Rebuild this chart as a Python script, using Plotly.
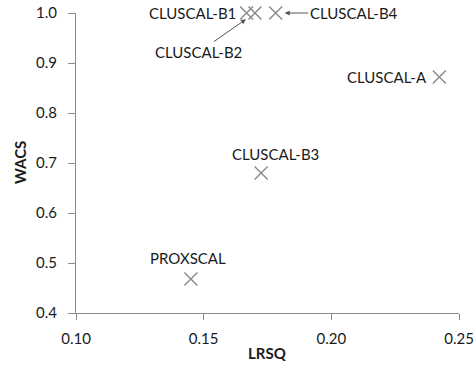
import plotly.graph_objects as go

labels = ["PROXSCAL", "CLUSCAL-A", "CLUSCAL-B1", "CLUSCAL-B2", "CLUSCAL-B3", "CLUSCAL-B4"]
lrsq = [0.145, 0.2423, 0.1668, 0.1701, 0.1725, 0.1782]
wacs = [0.468, 0.872, 1.0, 1.0, 0.68, 1.0]

x_ticks = [0.10, 0.15, 0.20, 0.25]
x_tick_text = ["0.10", "0.15", "0.20", "0.25"]
y_ticks = [0.4, 0.5, 0.6, 0.7, 0.8, 0.9, 1.0]
y_tick_text = ["0.4", "0.5", "0.6", "0.7", "0.8", "0.9", "1.0"]

FONT = "Lato"
TXT = "#1a1a1a"
AX = "#8a8a8a"

fig = go.Figure()
fig.add_trace(go.Scatter(
    x=lrsq, y=wacs, mode="markers",
    marker=dict(symbol="x-thin", size=13, line=dict(width=1.5, color="#8c8c8c"), color="#8c8c8c"),
    cliponaxis=False, hoverinfo="text", text=labels, showlegend=False,
))

d = dict(zip(labels, zip(lrsq, wacs)))
fnt = dict(family=FONT, size=15, color=TXT)
plain = {
    "PROXSCAL": (-3, 21),
    "CLUSCAL-A": (-52, 0),
    "CLUSCAL-B1": (-54, 0),
    "CLUSCAL-B3": (14, 19),
}
for name, (dx, dy) in plain.items():
    x, y = d[name]
    fig.add_annotation(x=x, y=y, text=name, showarrow=False, xshift=dx, yshift=dy, font=fnt)

x, y = d["CLUSCAL-B4"]
fig.add_annotation(x=x, y=y, text="CLUSCAL-B4", showarrow=True, ax=78, ay=0,
                   arrowhead=2, arrowsize=1, arrowwidth=1, arrowcolor="#555555", standoff=9,
                   font=fnt)
x, y = d["CLUSCAL-B2"]
fig.add_annotation(x=x, y=y, text="CLUSCAL-B2", showarrow=True, ax=-56, ay=39,
                   arrowhead=2, arrowsize=1, arrowwidth=1, arrowcolor="#555555", standoff=11,
                   font=fnt)

# axis titles
fig.add_annotation(xref="paper", yref="paper", x=0.5, y=0, yshift=-40, yanchor="middle",
                   text="<b>LRSQ</b>", showarrow=False, font=fnt)
fig.add_annotation(xref="paper", yref="paper", x=0, y=0.5, xshift=-56, xanchor="center",
                   text="<b>WACS</b>", textangle=-90, showarrow=False, font=fnt)

fig.update_layout(
    width=476, height=373,
    margin=dict(l=76, r=17, t=13, b=60, autoexpand=False),
    plot_bgcolor="white", paper_bgcolor="white",
    font=dict(family=FONT, size=15, color=TXT),
    xaxis=dict(range=[0.10, 0.25], tickvals=x_ticks, ticktext=x_tick_text, automargin=False,
               showgrid=False, zeroline=False, showline=True, linecolor=AX, linewidth=1,
               ticks="outside", ticklen=6, tickcolor=AX, ticklabelstandoff=6),
    yaxis=dict(range=[0.4, 1.0], tickvals=y_ticks, ticktext=y_tick_text, automargin=False,
               showgrid=False, zeroline=False, showline=True, linecolor=AX, linewidth=1,
               ticks="outside", ticklen=7, tickcolor=AX, ticklabelstandoff=8),
)

fig.write_html("out.html", config={"displayModeBar": False},
               post_script="document.body.style.margin='0';document.body.style.overflow='hidden';")
